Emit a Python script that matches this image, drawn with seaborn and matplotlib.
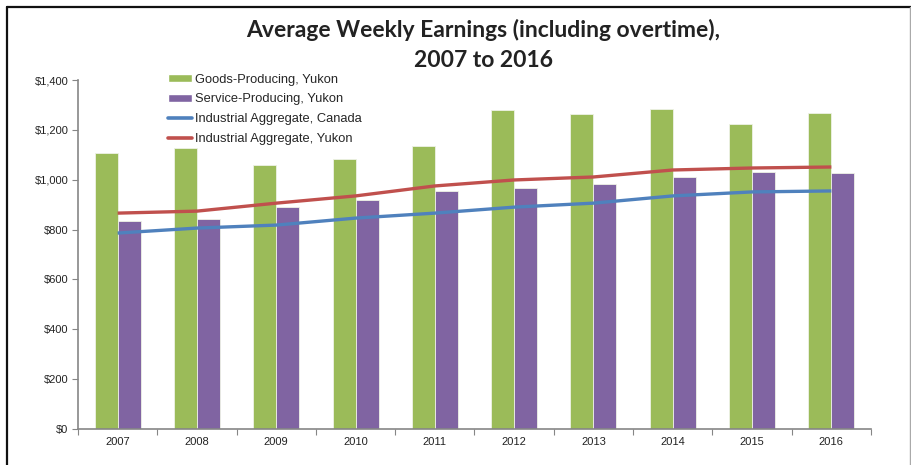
import numpy as np
import pandas as pd
import seaborn as sns
import matplotlib.pyplot as plt
from matplotlib.patches import Patch
from matplotlib.lines import Line2D
from matplotlib.ticker import FuncFormatter, FixedLocator

sns.set_style('white')
plt.rcParams['font.family'] = ['Liberation Sans', 'DejaVu Sans']

years = ['2007', '2008', '2009', '2010', '2011', '2012', '2013', '2014', '2015', '2016']
goods_yukon = [1107, 1127, 1059, 1083, 1135, 1280, 1264, 1284, 1223, 1268]
service_yukon = [834, 842, 890, 919, 955, 967, 983, 1011, 1031, 1027]
industrial_canada = [786, 806, 818, 846, 866, 890, 906, 935, 951, 955]
industrial_yukon = [866, 874, 906, 935, 975, 999, 1011, 1039, 1047, 1051]

bar_names = ['Goods-Producing, Yukon', 'Service-Producing, Yukon']
line_names = ['Industrial Aggregate, Canada', 'Industrial Aggregate, Yukon']
bar_colors = ['#9BBB59', '#8064A2']
line_colors = ['#4F81BD', '#C0504D']

bars = pd.DataFrame({
    'year': years * 2,
    'value': goods_yukon + service_yukon,
    'series': [bar_names[0]] * len(years) + [bar_names[1]] * len(years),
})

fig = plt.figure(figsize=(9.12, 4.65), dpi=100)
ax = fig.add_axes([78 / 912, 1 - 429 / 465, (871 - 78) / 912, (429 - 80) / 465])

sns.barplot(data=bars, x='year', y='value', hue='series', palette=bar_colors, saturation=1,
            width=0.58, edgecolor='#eef2e6', linewidth=0.6, ax=ax, legend=False)

pos = np.arange(len(years))
for vals, col in zip([industrial_canada, industrial_yukon], line_colors):
    sns.lineplot(x=pos, y=vals, color=col, linewidth=2.4, ax=ax,
                 solid_capstyle='butt', solid_joinstyle='round')

ax.set_xlim(-0.5, len(years) - 0.5)
ax.set_ylim(0, 1400)
ax.set_yticks(range(0, 1401, 200))
ax.yaxis.set_major_formatter(FuncFormatter(lambda v, p: f'${v:,.0f}'))
ax.set_xlabel('')
ax.set_ylabel('')
ax.xaxis.set_minor_locator(FixedLocator(np.arange(-0.5, len(years), 1.0)))
ax.tick_params(axis='x', which='major', length=0, pad=6, labelsize=8, colors='#222222')
ax.tick_params(axis='x', which='minor', length=4, width=0.8, color='#868686', bottom=True)
ax.tick_params(axis='y', length=4, width=0.8, color='#868686', left=True, labelsize=8,
               labelcolor='#222222', pad=3)
for s in ['top', 'right']:
    ax.spines[s].set_visible(False)
for s in ['left', 'bottom']:
    ax.spines[s].set_color('#868686')
    ax.spines[s].set_linewidth(1.2)

handles = [Patch(facecolor=bar_colors[0]), Patch(facecolor=bar_colors[1]),
           Line2D([], [], color=line_colors[0], linewidth=2.6),
           Line2D([], [], color=line_colors[1], linewidth=2.6)]
ax.legend(handles, bar_names + line_names, loc='upper left', bbox_to_anchor=(0.114, 1.018),
          frameon=False, fontsize=9.3, handlelength=1.85, handleheight=0.6,
          handletextpad=0.2, labelspacing=0.6, borderaxespad=0, borderpad=0)

title_font = ['Lato', 'DejaVu Sans']
fig.text(0.53, 0.935, 'Average Weekly Earnings (including overtime),', ha='center', va='center',
         fontsize=16.5, fontweight='bold', family=title_font, color='#222222')
fig.text(0.53, 0.87, '2007 to 2016', ha='center', va='center',
         fontsize=16.5, fontweight='bold', family=title_font, color='#222222')

# outer chart frame
fig.add_artist(Line2D([7 / 912, 7 / 912], [0, 1 - 7 / 465], transform=fig.transFigure,
                      color='#111111', linewidth=1.6))
fig.add_artist(Line2D([7 / 912, 1], [1 - 7 / 465, 1 - 7 / 465], transform=fig.transFigure,
                      color='#111111', linewidth=1.6))
fig.add_artist(Line2D([910 / 912, 910 / 912], [0, 1 - 7 / 465], transform=fig.transFigure,
                      color='#aaaaaa', linewidth=1.0))

fig.savefig('out.png', dpi=100)
